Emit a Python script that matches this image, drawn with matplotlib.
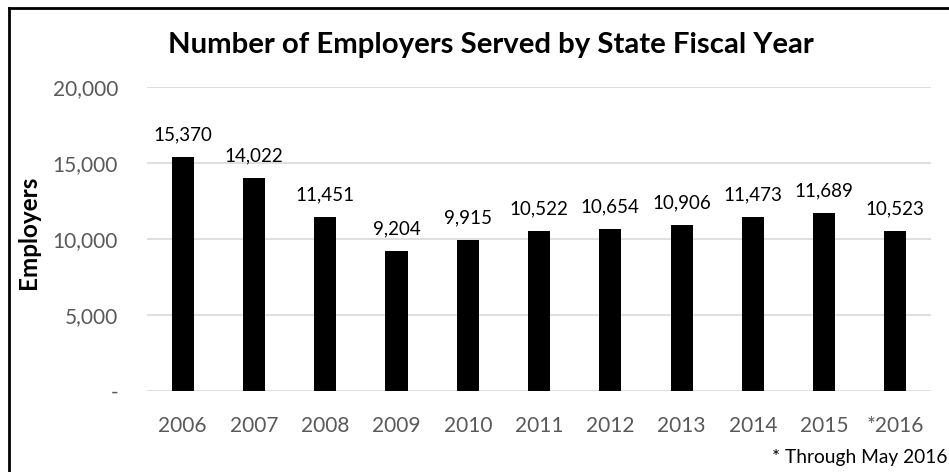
import matplotlib
matplotlib.use("Agg")
import matplotlib.pyplot as plt
from matplotlib.lines import Line2D
from matplotlib.ticker import FuncFormatter

plt.rcParams['font.family'] = ['Lato', 'DejaVu Sans']

years = ['2006', '2007', '2008', '2009', '2010', '2011', '2012', '2013', '2014', '2015', '*2016']
employers = [15370, 14022, 11451, 9204, 9915, 10522, 10654, 10906, 11473, 11689, 10523]

fig = plt.figure(figsize=(9.49, 4.72), dpi=100)
ax = fig.add_axes([0.155, 0.1716, 0.826, 0.6441])

x = list(range(len(years)))
ax.bar(x, employers, width=0.31, color='black', zorder=3)
for xi, v in zip(x, employers):
    ax.text(xi, v + 900, f'{v:,}', ha='center', va='bottom', fontsize=13.5, color='black')

ax.set_xlim(-0.5, len(years) - 0.5)
ax.set_ylim(0, 20000)
ax.set_yticks([0, 5000, 10000, 15000, 20000])
ax.yaxis.set_major_formatter(FuncFormatter(lambda v, p: '-' if v == 0 else f'{int(v):,}'))
ax.set_xticks(x)
ax.set_xticklabels(years)
ax.grid(axis='y', color='#d9d9d9', linewidth=1.2, zorder=0)
for s in ax.spines.values():
    s.set_visible(False)
ax.tick_params(axis='both', length=0, labelsize=15, labelcolor='#595959')
ax.tick_params(axis='x', pad=18)
ax.tick_params(axis='y', pad=21)

ax.set_ylabel('Employers', fontsize=17.5, fontweight='bold')
ax.yaxis.set_label_coords(-0.137, 0.523)

fig.text(0.517, 0.905, 'Number of Employers Served by State Fiscal Year',
         ha='center', va='center', fontsize=21.2, fontweight='bold')
fig.text(0.998, 0.03, '* Through May 2016', ha='right', va='center', fontsize=13.8)

# frame around the chart area
fig.add_artist(Line2D([9 / 949, 1.0], [1 - 8 / 472, 1 - 8 / 472], color='black', linewidth=2))
fig.add_artist(Line2D([9 / 949, 9 / 949], [0, 1 - 8 / 472], color='black', linewidth=2))

fig.savefig('out.png', dpi=100)
